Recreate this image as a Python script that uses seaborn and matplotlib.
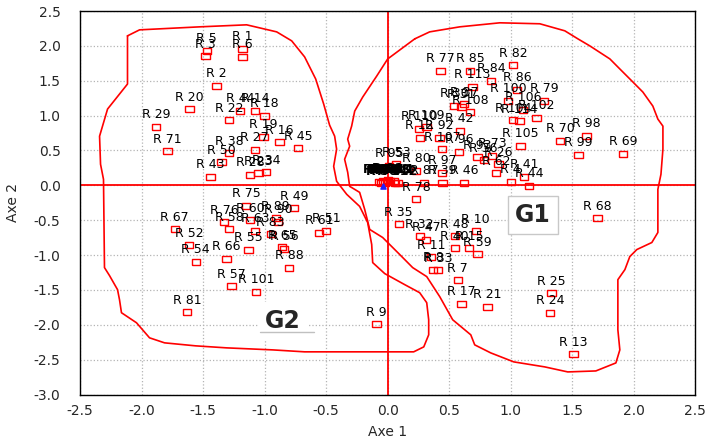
import numpy as np
import matplotlib
matplotlib.use("Agg")
import matplotlib.pyplot as plt
import seaborn as sns
from matplotlib.ticker import MultipleLocator

# point labels and coordinates (Axe 1, Axe 2)
labels = ['R 5', 'R 3', 'R 1', 'R 6', 'R 2', 'R 20', 'R 29', 'R 71', 'R 22',
          'R 44', 'R 14', 'R 18', 'R 19', 'R 27', 'R 16', 'R 45', 'R 38',
          'R 50', 'R 43', 'R 28', 'R 23', 'R 34',
          'R 75', 'R 49', 'R 76', 'R 58', 'R 60', 'R 89', 'R 90', 'R 63',
          'R 83', 'R 55', 'R 65', 'R 56', 'R 88', 'R 66', 'R 67', 'R 52',
          'R 54', 'R 57', 'R 101', 'R 81', 'R 61', 'R 51', 'R 9',
          'R 77', 'R 85', 'R 82', 'R 84', 'R 113', 'R 86', 'R 100', 'R 79',
          'R 106', 'R 102', 'R 104', 'R 114', 'R 30', 'R 31', 'R 37',
          'R 108', 'R 110', 'R 109', 'R 42', 'R 12', 'R 92', 'R 98', 'R 70',
          'R 99', 'R 69', 'R 105', 'R 107', 'R 96', 'R 93', 'R 73', 'R 36',
          'R 26', 'R 41', 'R 62', 'R 44', 'R 4', 'R 46', 'R 39', 'R 87',
          'R 97', 'R 80', 'R 53', 'R 95', 'R 78',
          'R 35', 'R 32', 'R 47', 'R 48', 'R 10', 'R 40', 'R 15', 'R 11',
          'R 59', 'R 33', 'R 8', 'R 17', 'R 21', 'R 7', 'R 68', 'R 25',
          'R 24', 'R 13']
axe1 = [-1.47, -1.48, -1.18, -1.18, -1.39, -1.61, -1.88, -1.79, -1.29,
        -1.20, -1.08, -1.00, -1.01, -1.08, -0.88, -0.73, -1.29,
        -1.35, -1.44, -1.12, -1.05, -0.99,
        -1.15, -0.76, -1.33, -1.29, -1.12, -0.91, -0.89, -1.08,
        -0.95, -1.13, -0.86, -0.84, -0.80, -1.31, -1.73, -1.615,
        -1.56, -1.27, -1.07, -1.63, -0.56, -0.50, -0.09,
        0.43, 0.67, 1.02, 0.84, 0.69, 1.05, 0.98, 1.27,
        1.10, 1.21, 1.02, 1.07, 0.54, 0.60, 0.62,
        0.67, 0.255, 0.315, 0.585, 0.26, 0.42, 1.615, 1.40,
        1.55, 1.91, 1.08, 0.44, 0.58, 0.73, 0.85, 0.78,
        0.90, 1.11, 0.88, 1.15, 1.00, 0.62, 0.445, 0.296,
        0.44, 0.23, 0.07, 0.01, 0.23,
        0.09, 0.26, 0.31, 0.545, 0.715, 0.545, 0.66, 0.35,
        0.73, 0.41, 0.37, 0.60, 0.81, 0.57, 1.705, 1.33,
        1.317, 1.51]
axe2 = [1.93, 1.85, 1.96, 1.84, 1.43, 1.09, 0.84, 0.49, 0.93,
        1.07, 1.07, 1.00, 0.70, 0.51, 0.62, 0.53, 0.46,
        0.33, 0.12, 0.15, 0.17, 0.19,
        -0.29, -0.33, -0.53, -0.63, -0.50, -0.47, -0.52, -0.65,
        -0.70, -0.925, -0.89, -0.91, -1.18, -1.055, -0.63, -0.86,
        -1.10, -1.45, -1.53, -1.82, -0.68, -0.65, -1.99,
        1.64, 1.645, 1.72, 1.50, 1.41, 1.37, 1.21, 1.21,
        1.08, 0.97, 0.935, 0.92, 1.14, 1.13, 1.16,
        1.05, 0.815, 0.83, 0.78, 0.68, 0.68, 0.71, 0.64,
        0.44, 0.456, 0.565, 0.52, 0.48, 0.40, 0.42, 0.36,
        0.30, 0.125, 0.17, -0.01, 0.05, 0.04, 0.04, 0.04,
        0.18, 0.21, 0.30, 0.28, -0.20,
        -0.56, -0.73, -0.78, -0.73, -0.66, -0.90, -0.90, -1.03,
        -0.99, -1.22, -1.21, -1.70, -1.745, -1.36, -0.475, -1.545,
        -1.83, -2.42]

# tightly packed points next to the origin (their labels merge into a blob)
core_labels = ['R 64', 'R 72', 'R 74', 'R 91', 'R 94', 'R 103', 'R 111',
               'R 112', 'R 56', 'R 65']
core_x = [-0.07, -0.04, -0.02, 0.0, 0.0, 0.02, 0.05, 0.08, -0.05, 0.06]
core_y = [0.05, 0.06, 0.04, 0.07, 0.05, 0.06, 0.06, 0.03, 0.03, 0.04]

# group outlines
g2_x = [-2.114, -2.016, -1.528, -1.146, -0.902, -0.780, -0.675, -0.585,
        -0.520, -0.472, -0.431, -0.415, -0.439, -0.415, -0.333, -0.228,
        -0.163, -0.130, -0.122, -0.024, 0.138, 0.260, 0.317, 0.333, 0.333,
        0.293, 0.211, -0.675, -0.935, -1.309, -1.561, -1.813, -1.935,
        -2.041, -2.163, -2.179, -2.195, -2.260, -2.301, -2.309, -2.333,
        -2.341, -2.276, -2.114, -2.114]
g2_y = [2.144, 2.230, 2.273, 2.302, 2.201, 2.072, 1.842, 1.525,
        1.165, 0.863, 0.705, 0.518, 0.273, 0.058, -0.129, -0.302,
        -0.532, -0.849, -1.108, -1.266, -1.424, -1.540, -1.683, -1.928,
        -2.144, -2.317, -2.388, -2.388, -2.360, -2.331, -2.302, -2.259,
        -2.187, -1.971, -1.827, -1.640, -1.496, -1.295, -1.180, 0.086,
        0.302, 0.705, 1.094, 1.453, 2.144]
g1_x = [0.220, 0.341, 0.585, 0.911, 1.236, 1.439, 1.545, 1.642, 1.805,
        1.886, 1.992, 2.073, 2.154, 2.195, 2.236, 2.236, 2.220, 2.195,
        2.195, 2.146, 2.024, 1.967, 1.927, 1.870, 1.870, 1.886, 1.854,
        1.691, 1.463, 1.276, 1.024, 0.837, 0.707, 0.675, 0.528, 0.423,
        0.317, 0.203, 0.098, -0.041, -0.146, -0.187, -0.228, -0.309,
        -0.325, -0.350, -0.309, -0.325, -0.293, -0.268, -0.203, -0.089,
        0.000, 0.220]
g1_y = [2.101, 2.201, 2.273, 2.331, 2.317, 2.216, 2.101, 2.000, 1.813,
        1.669, 1.482, 1.338, 1.137, 0.950, 0.849, 0.518, 0.158, -0.058,
        -0.676, -0.820, -0.921, -1.022, -1.209, -1.353, -2.072, -2.360,
        -2.547, -2.662, -2.676, -2.604, -2.532, -2.403, -2.288, -2.144,
        -1.928, -1.597, -1.309, -1.180, -0.993, -0.748, -0.633, -0.345,
        -0.101, -0.014, 0.187, 0.374, 0.561, 0.662, 0.849, 1.065, 1.266,
        1.568, 1.813, 2.101]

sns.set_style("white")
plt.rcParams['font.family'] = ['DejaVu Sans']

fig = plt.figure(figsize=(7.06, 4.48), dpi=100)
ax = fig.add_axes([0.1133, 0.1194, 0.8717, 0.856])

ax.grid(True, ls=':', color='#b4b4b4', lw=0.9)
ax.axhline(0, color='red', lw=1.3, zorder=2)
ax.axvline(0, color='red', lw=1.3, zorder=2)
ax.plot(g2_x, g2_y, color='red', lw=1.2, zorder=2)
ax.plot(g1_x, g1_y, color='red', lw=1.2, zorder=2)

box_marker = [(-1, -0.72), (1, -0.72), (1, 0.72), (-1, 0.72), (-1, -0.72)]
sns.scatterplot(x=axe1 + core_x, y=axe2 + core_y, marker=box_marker, s=36,
                facecolor='none', edgecolor='red', linewidth=1.0, ax=ax,
                zorder=3)
ax.scatter([-0.04], [-0.01], marker='^', s=14, color='#2020ff', zorder=4)

for lab, xx, yy in zip(labels, axe1, axe2):
    ax.annotate(lab, (xx, yy), xytext=(0, 4), textcoords='offset points',
                ha='center', va='bottom', fontsize=9, color='black', zorder=5)
for lab, xx, yy in zip(core_labels, core_x, core_y):
    ax.annotate(lab, (xx, yy), xytext=(0, 4), textcoords='offset points',
                ha='center', va='bottom', fontsize=9, fontweight='bold',
                color='black', zorder=5)

ax.text(-0.85, -1.95, 'G2', fontsize=17, fontweight='bold', ha='center',
        va='center', zorder=6,
        bbox=dict(boxstyle='square,pad=0.3', fc='white', ec='none'))
ax.plot([-1.04, -0.6], [-2.11, -2.11], color='#c0c0c0', lw=1, zorder=6)
ax.text(1.18, -0.43, 'G1', fontsize=17, fontweight='bold', ha='center',
        va='center', zorder=6,
        bbox=dict(boxstyle='square,pad=0.3', fc='white', ec='#c8c8c8'))

ax.set_xlim(-2.5, 2.5)
ax.set_ylim(-3.0, 2.5)
ax.xaxis.set_major_locator(MultipleLocator(0.5))
ax.yaxis.set_major_locator(MultipleLocator(0.5))
ax.xaxis.set_minor_locator(MultipleLocator(0.1))
ax.yaxis.set_minor_locator(MultipleLocator(0.1))
ax.xaxis.set_major_formatter(lambda v, p: f"{v:.1f}")
ax.yaxis.set_major_formatter(lambda v, p: f"{v:.1f}")
ax.tick_params(which='both', direction='in', top=False, right=False,
               labelsize=10, color='black')
ax.tick_params(which='major', length=5)
ax.tick_params(which='minor', length=3)
ax.tick_params(axis='x', which='major', pad=7)
ax.tick_params(axis='y', which='major', pad=14)
for sp in ax.spines.values():
    sp.set_color('black')
    sp.set_linewidth(1.0)

ax.set_xlabel('Axe 1', fontsize=10, labelpad=5)
ax.set_ylabel('Axe 2', fontsize=10, labelpad=10)

fig.savefig('out.png', dpi=100)
